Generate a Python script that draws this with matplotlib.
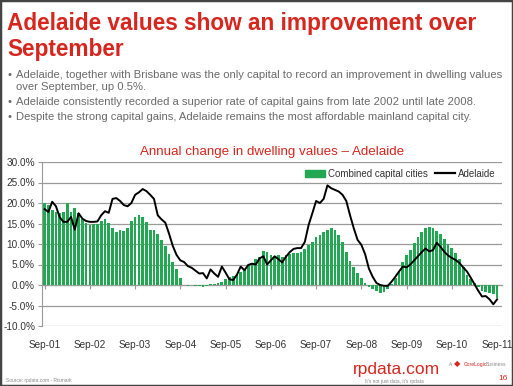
import numpy as np
import matplotlib.pyplot as plt
from matplotlib.patches import Rectangle
from matplotlib.lines import Line2D

# Annual change, monthly, Sep-01 .. Sep-11 (121 values)
combined = [19.9, 19.5, 18.3, 17.9, 17.5, 17.8, 19.9, 17.9, 18.7, 17.5,
            16.0, 15.2, 14.7, 14.8, 15.0, 15.5, 16.0, 15.2, 13.8, 13.0,
            13.5, 13.2, 14.0, 15.5, 16.5, 17.0, 16.5, 15.4, 13.4, 13.3,
            12.5, 11.0, 9.5, 7.5, 5.5, 4.0, 1.6, 0.1, -0.2, 0.1,
            -0.3, -0.2, -0.6, -0.3, 0.2, 0.3, 0.4, 0.8, 1.4, 2.0,
            2.3, 2.8, 3.2, 3.8, 4.8, 5.4, 6.3, 6.9, 8.3, 8.1,
            7.4, 6.9, 7.3, 6.9, 7.2, 7.6, 7.7, 7.8, 8.1, 8.9,
            9.8, 10.6, 11.8, 12.2, 13.0, 13.4, 13.8, 13.4, 12.2, 10.5,
            8.0, 5.8, 4.5, 3.0, 1.6, 0.6, -0.5, -1.0, -1.5, -2.0,
            -1.8, -1.0, 0.2, 1.6, 3.5, 5.5, 7.3, 8.5, 10.2, 11.8,
            13.0, 14.0, 14.2, 13.8, 13.2, 12.4, 11.2, 10.0, 9.0, 7.8,
            6.3, 4.5, 2.5, 1.4, 0.5, -0.6, -1.4, -1.6, -2.0, -2.3,
            -3.2]

adelaide = [18.5, 17.8, 20.3, 19.2, 16.5, 15.4, 15.4, 16.6, 13.5, 17.5,
            16.2, 15.6, 15.4, 15.4, 15.5, 17.0, 18.0, 17.6, 21.0, 21.2,
            20.5, 19.5, 19.2, 20.0, 22.0, 22.6, 23.4, 22.9, 22.0, 21.0,
            17.0, 16.0, 15.2, 12.5, 9.5, 7.3, 6.0, 5.6, 4.6, 4.2,
            3.5, 2.8, 2.9, 1.6, 3.8, 2.8, 2.0, 4.5, 3.0, 1.4,
            1.2, 2.5, 4.5, 3.6, 4.9, 5.2, 5.0, 6.5, 7.0, 5.0,
            6.0, 7.0, 6.3, 5.5, 6.9, 8.0, 8.8, 9.0, 9.0, 10.5,
            14.6, 17.5, 20.5, 20.0, 21.0, 24.3, 23.6, 23.2, 22.8, 22.0,
            20.5, 17.0, 13.8, 11.0, 9.8, 7.5, 4.0, 2.0, 0.5, 0.0,
            -0.2, -0.2, 0.8, 2.0, 3.3, 4.5, 4.3, 5.0, 6.0, 7.0,
            8.0, 8.9, 8.2, 8.5, 10.3, 9.3, 8.1, 7.2, 6.6, 6.1,
            5.4, 4.3, 3.3, 1.8, 0.2, -1.4, -2.8, -2.7, -3.5, -4.7,
            -3.5]

tick_labels = ["Sep-01", "Sep-02", "Sep-03", "Sep-04", "Sep-05", "Sep-06",
               "Sep-07", "Sep-08", "Sep-09", "Sep-10", "Sep-11"]

bullets = [
    "Adelaide, together with Brisbane was the only capital to record an improvement in dwelling values",
    "over September, up 0.5%.",
    "Adelaide consistently recorded a superior rate of capital gains from late 2002 until late 2008.",
    "Despite the strong capital gains, Adelaide remains the most affordable mainland capital city.",
]

red = "#d7261e"
green = "#22a852"
grey_txt = "#6b6b6b"

plt.rcParams['font.family'] = ['Liberation Sans', 'DejaVu Sans']

fig = plt.figure(figsize=(5.13, 3.86), dpi=100)
W, H = 513, 386

# slide border
fig.patches.append(Rectangle((0, 0), 1, 1, transform=fig.transFigure,
                             fill=False, edgecolor="#444444", linewidth=2.5))

# heading
fig.text(7 / W, 1 - 30 / H, "Adelaide values show an improvement over",
         color=red, fontsize=16.3, fontweight='bold', va='baseline')
fig.text(7 / W, 1 - 56 / H, "September",
         color=red, fontsize=16.3, fontweight='bold', va='baseline')

# bullet points
rows = [(0, 78, True), (1, 90, False), (2, 105, True), (3, 120, True)]
for i, y, dot in rows:
    if dot:
        fig.text(7 / W, 1 - y / H, "•", color=grey_txt, fontsize=8, va='baseline')
    fig.text(16 / W, 1 - y / H, bullets[i], color=grey_txt, fontsize=8.1, va='baseline')

# chart
ax = fig.add_axes([42 / W, 1 - 326 / H, 460 / W, 164 / H])
x = np.arange(len(combined))
ax.bar(x, combined, width=0.72, color=green, linewidth=0, zorder=2)
ax.plot(x, adelaide, color="black", linewidth=1.4, zorder=3)

ax.set_xlim(-0.7, 121.3)
ax.set_ylim(-10, 30)
ax.set_yticks(np.arange(-10, 31, 5))
ax.set_yticklabels([f"{v:.1f}%" for v in np.arange(-10, 31, 5)])
ax.yaxis.grid(True, color="#9a9a9a", linewidth=0.9, zorder=0)
ax.set_axisbelow(True)

for s in ['top', 'right']:
    ax.spines[s].set_visible(False)
ax.spines['left'].set_color("#9a9a9a")
ax.spines['bottom'].set_position(('data', 0))
ax.spines['bottom'].set_color("#9a9a9a")
ax.spines['bottom'].set_zorder(1)
ax.set_xticks(np.arange(0, 121, 12))
ax.tick_params(axis='x', direction='out', length=3, color="#9a9a9a", labelbottom=False)
ax.tick_params(axis='y', direction='out', length=3, color="#9a9a9a",
               labelsize=7.2, labelcolor="#333333", pad=2)

sec = ax.secondary_xaxis('bottom')
sec.set_xticks(np.arange(0, 121, 12))
sec.set_xticklabels(tick_labels)
sec.tick_params(length=0, labelsize=7.2, labelcolor="#333333", pad=10)
sec.spines['bottom'].set_visible(False)

ax.set_title("Annual change in dwelling values \u2013 Adelaide", color=red,
             fontsize=9.6, pad=5)

handles = [Rectangle((0, 0), 1, 1, color=green),
           Line2D([0], [0], color="black", linewidth=1.6)]
leg = ax.legend(handles, ["Combined capital cities", "Adelaide"], loc='upper right',
                bbox_to_anchor=(1.0, 1.0), ncol=2, frameon=False, fontsize=7,
                handlelength=2.0, handletextpad=0.3, columnspacing=0.8,
                borderaxespad=0.3)
for t in leg.get_texts():
    t.set_color("#333333")

# footer
fig.text(353 / W, 1 - 374 / H, "rpdata.com", color=red, fontsize=12.5, va='baseline')
fig.text(394 / W, 1 - 383 / H, "It's not just data, it's rpdata", color="#888888",
         fontsize=3.5, ha='center', va='baseline')
fig.text(449 / W, 1 - 366 / H, "A", color="#888888", fontsize=3.5, va='baseline')
fig.text(454 / W, 1 - 366 / H, "\u25c6", color=red, fontsize=6, va='baseline')
fig.text(464 / W, 1 - 366 / H, "CoreLogic", color=red, fontsize=3.6, va='baseline')
fig.text(486 / W, 1 - 366 / H, "Business", color="#888888", fontsize=3.6, va='baseline')
fig.text(503 / W, 1 - 380 / H, "16", color=red, fontsize=6, ha='center', va='baseline')
fig.text(6 / W, 1 - 382 / H, "Source: rpdata.com - Rismark", color="#888888",
         fontsize=3.5, va='baseline')

fig.savefig("out.png", dpi=100)
